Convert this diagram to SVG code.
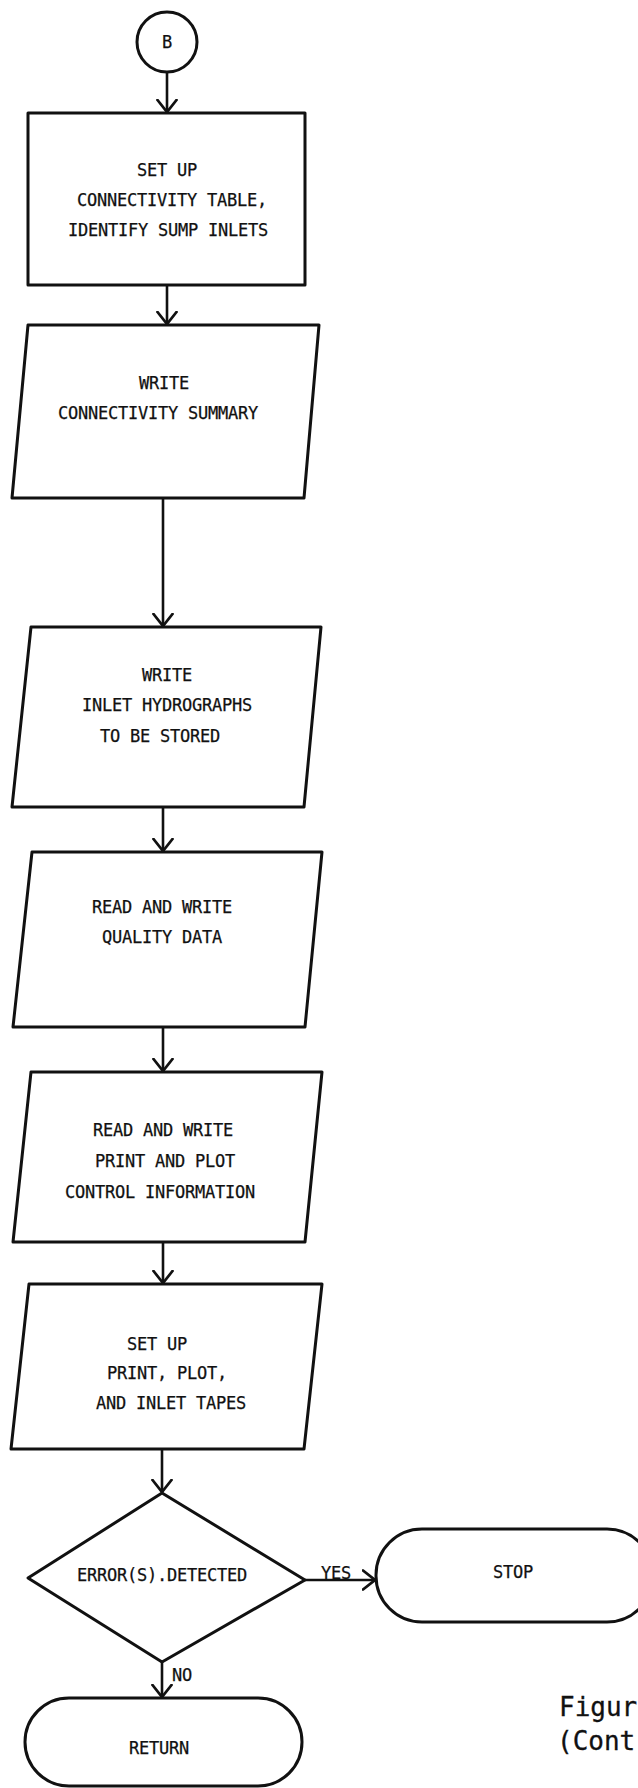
<svg xmlns="http://www.w3.org/2000/svg" width="638" height="1788" viewBox="0 0 638 1788">
  <defs>
    <style>
      .shape { fill: none; stroke: #111; stroke-width: 3; stroke-linejoin: round; }
      .wire { fill: none; stroke: #111; stroke-width: 2.6; }
      .head { fill: none; stroke: #111; stroke-width: 2.8; stroke-linecap: round; stroke-linejoin: miter; }
      text { font-family: "DejaVu Sans Mono", "Liberation Mono", monospace; font-size: 17px; letter-spacing: -0.23px; fill: #111; stroke: #111; stroke-width: 0.25; }
      .caption { font-size: 26px; letter-spacing: 0; stroke-width: 0.3; }
    </style>
    <marker id="vee" viewBox="-13 -11 15 22" refX="0" refY="0" markerWidth="15" markerHeight="22" markerUnits="userSpaceOnUse" orient="auto">
      <path class="head" d="M-12,-9.5 L0,0 L-12,9.5"/>
    </marker>
  </defs>

  <rect width="638" height="1788" fill="#ffffff"/>

  <!-- flow lines -->
  <g id="connectors">
    <line class="wire" x1="167" y1="72" x2="167" y2="112" marker-end="url(#vee)"/>
    <line class="wire" x1="167" y1="285" x2="167" y2="324" marker-end="url(#vee)"/>
    <line class="wire" x1="163" y1="498" x2="163" y2="626" marker-end="url(#vee)"/>
    <line class="wire" x1="163" y1="807" x2="163" y2="851" marker-end="url(#vee)"/>
    <line class="wire" x1="163" y1="1027" x2="163" y2="1071" marker-end="url(#vee)"/>
    <line class="wire" x1="163" y1="1242" x2="163" y2="1283" marker-end="url(#vee)"/>
    <line class="wire" x1="162" y1="1449" x2="162" y2="1492" marker-end="url(#vee)"/>
    <line class="wire" x1="162" y1="1662" x2="162" y2="1697" marker-end="url(#vee)"/>
    <line class="wire" x1="305" y1="1580" x2="375" y2="1580" marker-end="url(#vee)"/>
    <text x="321" y="1579">YES</text>
    <text x="172" y="1681">NO</text>
  </g>

  <!-- off-page connector -->
  <g id="connector-b">
    <circle class="shape" cx="167" cy="42" r="30"/>
    <text x="162" y="48">B</text>
  </g>

  <g id="setup-table">
    <rect class="shape" x="28" y="113" width="277" height="172"/>
    <text x="137" y="176">SET UP</text>
    <text x="77" y="206">CONNECTIVITY TABLE,</text>
    <text x="68" y="236">IDENTIFY SUMP INLETS</text>
  </g>

  <g id="write-summary">
    <polygon class="shape" points="28,325 319,325 304,498 12,498"/>
    <text x="139" y="389">WRITE</text>
    <text x="58" y="419">CONNECTIVITY SUMMARY</text>
  </g>

  <g id="write-hydrographs">
    <polygon class="shape" points="31,627 321,627 304,807 12,807"/>
    <text x="142" y="681">WRITE</text>
    <text x="82" y="711">INLET HYDROGRAPHS</text>
    <text x="100" y="742">TO BE STORED</text>
  </g>

  <g id="quality-data">
    <polygon class="shape" points="32,852 322,852 305,1027 13,1027"/>
    <text x="92" y="913">READ AND WRITE</text>
    <text x="102" y="943">QUALITY DATA</text>
  </g>

  <g id="control-info">
    <polygon class="shape" points="31,1072 322,1072 305,1242 13,1242"/>
    <text x="93" y="1136">READ AND WRITE</text>
    <text x="95" y="1167">PRINT AND PLOT</text>
    <text x="65" y="1198">CONTROL INFORMATION</text>
  </g>

  <g id="setup-tapes">
    <polygon class="shape" points="29,1284 322,1284 304,1449 11,1449"/>
    <text x="127" y="1350">SET UP</text>
    <text x="107" y="1379">PRINT, PLOT,</text>
    <text x="96" y="1409">AND INLET TAPES</text>
  </g>

  <g id="error-check">
    <polygon class="shape" points="162,1493 305,1580 162,1662 28,1578"/>
    <text x="77" y="1581">ERROR(S).DETECTED</text>
  </g>

  <g id="stop">
    <rect class="shape" x="376" y="1529" width="277" height="93" rx="46" ry="46"/>
    <text x="493" y="1578">STOP</text>
  </g>

  <g id="return">
    <rect class="shape" x="25" y="1698" width="277" height="88" rx="44" ry="44"/>
    <text x="129" y="1754">RETURN</text>
  </g>

  <!-- figure caption, running into the right margin -->
  <g id="caption">
    <text class="caption" x="559" y="1716">Figur</text>
    <text class="caption" x="557" y="1750">(Cont</text>
  </g>
</svg>
